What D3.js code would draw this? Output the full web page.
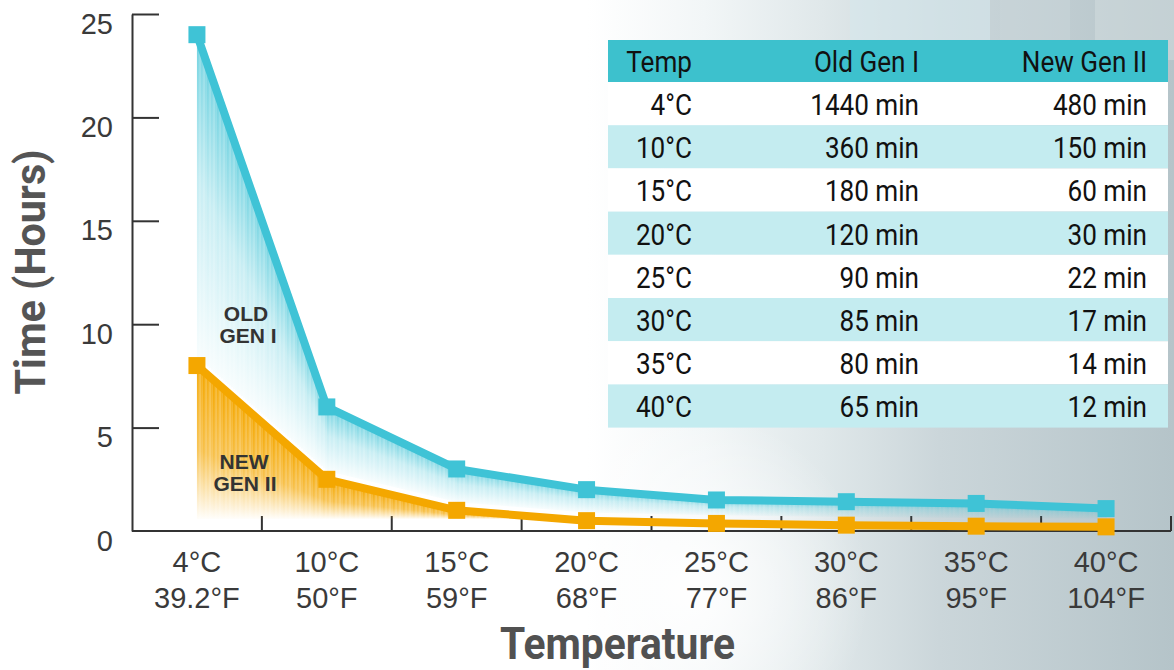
<!DOCTYPE html>
<html>
<head>
<meta charset="utf-8">
<script src="https://cdn.jsdelivr.net/npm/d3@7"></script>
<style>
  html, body { margin: 0; padding: 0; background: #fff; }
  svg { display: block; }
</style>
</head>
<body>
<div id="chart"></div>
<script>
// data
const tempsC = ["4°C", "10°C", "15°C", "20°C", "25°C", "30°C", "35°C", "40°C"];
const tempsF = ["39.2°F", "50°F", "59°F", "68°F", "77°F", "86°F", "95°F", "104°F"];
const oldGenMin = [1440, 360, 180, 120, 90, 85, 80, 65];
const newGenMin = [480, 150, 60, 30, 22, 17, 14, 12];
const yTicks = [0, 5, 10, 15, 20, 25];
const tableHeader = ["Temp", "Old Gen I", "New Gen II"];

const W = 1174, H = 670;
const cyan = "#3fc3d6", orange = "#f4a700";
const axisColor = "#333";

const oldHours = oldGenMin.map(d => d / 60);
const newHours = newGenMin.map(d => d / 60);

const svg = d3.select("#chart").append("svg")
    .attr("width", W)
    .attr("height", H);

const defs = svg.append("defs");

// background photo-ish wash on the right
const bg = defs.append("linearGradient").attr("id", "bg")
    .attr("gradientUnits", "userSpaceOnUse")
    .attr("x1", 0).attr("x2", W).attr("y1", 0).attr("y2", 0);
[[0, "#ffffff"], [0.5, "#ffffff"], [0.6, "#f2f6f7"], [0.7, "#e0e8ea"],
 [0.8, "#cbd6da"], [1, "#b5c4c9"]].forEach(s =>
    bg.append("stop").attr("offset", s[0]).attr("stop-color", s[1]));

const glow = defs.append("radialGradient").attr("id", "glow")
    .attr("gradientUnits", "userSpaceOnUse")
    .attr("cx", 690).attr("cy", 590).attr("r", 180);
glow.append("stop").attr("offset", 0).attr("stop-color", "#fff").attr("stop-opacity", 0.95);
glow.append("stop").attr("offset", 1).attr("stop-color", "#fff").attr("stop-opacity", 0);

// fades used for every fill strip (objectBoundingBox = per strip)
const gOld = defs.append("linearGradient").attr("id", "fadeOld")
    .attr("x1", 0).attr("x2", 0).attr("y1", 0).attr("y2", 1);
gOld.append("stop").attr("offset", 0).attr("stop-color", cyan).attr("stop-opacity", 0.75);
gOld.append("stop").attr("offset", 0.45).attr("stop-color", cyan).attr("stop-opacity", 0.3);
gOld.append("stop").attr("offset", 1).attr("stop-color", cyan).attr("stop-opacity", 0.04);

const gNew = defs.append("linearGradient").attr("id", "fadeNew")
    .attr("x1", 0).attr("x2", 0).attr("y1", 0).attr("y2", 1);
gNew.append("stop").attr("offset", 0).attr("stop-color", orange).attr("stop-opacity", 1);
gNew.append("stop").attr("offset", 0.55).attr("stop-color", orange).attr("stop-opacity", 0.7);
gNew.append("stop").attr("offset", 1).attr("stop-color", orange).attr("stop-opacity", 0.02);

svg.append("rect").attr("width", W).attr("height", H).attr("fill", "url(#bg)");
// faint vertical bands at the top right (background picture)
[[850, 140, "#d6e8ec", 0.6], [1000, 70, "#c9d5d9", 0.5], [1095, 79, "#d3dde0", 0.5]].forEach(b =>
    svg.append("rect").attr("x", b[0]).attr("y", 0).attr("width", b[1]).attr("height", 60)
        .attr("fill", b[2]).attr("opacity", b[3]));
svg.append("rect").attr("x", 480).attr("y", 400).attr("width", 420).attr("height", 270)
    .attr("fill", "url(#glow)");

// scales
const x = d3.scaleBand().domain(tempsC).range([132, 1171]);
const y = d3.scaleLinear().domain([0, 25]).range([531, 14]);
const cx = d => x(d) + x.bandwidth() / 2;

const tickFont = "'Liberation Sans', Arial, sans-serif";

// y axis
const yAxis = svg.append("g")
    .attr("transform", "translate(132,0)")
    .call(d3.axisLeft(y).tickValues(yTicks).tickSizeInner(-27).tickSizeOuter(0).tickPadding(19));
yAxis.select(".domain").attr("stroke", axisColor).attr("stroke-width", 2);
yAxis.selectAll(".tick line").attr("stroke", axisColor).attr("stroke-width", 2)
    .filter(d => d === 0).remove();
yAxis.selectAll(".tick text")
    .attr("fill", "#3a3a3a")
    .attr("dy", 0)
    .attr("y", 19)
    .style("font-family", tickFont)
    .style("font-size", "29px");

// x axis baseline with upward ticks at band edges
const xg = svg.append("g");
xg.append("line")
    .attr("x1", 132).attr("x2", 1171).attr("y1", y(0)).attr("y2", y(0))
    .attr("stroke", axisColor).attr("stroke-width", 2);
const edges = tempsC.map(d => x(d) + x.bandwidth());
xg.selectAll(".xt").data(edges).enter().append("line")
    .attr("x1", d => d).attr("x2", d => d)
    .attr("y1", y(0)).attr("y2", y(0) - 15)
    .attr("stroke", axisColor).attr("stroke-width", 2);

const xl = xg.selectAll(".xl").data(tempsC).enter().append("text")
    .attr("text-anchor", "middle")
    .attr("fill", "#3a3a3a")
    .style("font-family", tickFont)
    .style("font-size", "29px");
xl.append("tspan").attr("x", d => cx(d)).attr("y", 572).text(d => d);
xl.append("tspan").attr("x", d => cx(d)).attr("y", 608).text((d, i) => tempsF[i]);

// piecewise position along each series (used for the striped fade fills)
const centers = tempsC.map(cx);
const yOldAt = d3.scaleLinear().domain(centers).range(oldHours.map(y));
const yNewAt = d3.scaleLinear().domain(centers).range(newHours.map(y));
const xs = d3.range(centers[0], centers[centers.length - 1], 2);
const shade = [1, 0.82, 0.94, 0.78, 0.9];

svg.append("g").selectAll("rect").data(xs).enter().append("rect")
    .attr("x", d => d).attr("width", 2)
    .attr("y", d => yOldAt(d))
    .attr("height", d => Math.max(6, yNewAt(d) - 8 - yOldAt(d)))
    .attr("fill", "url(#fadeOld)")
    .attr("opacity", (d, i) => shade[i % shade.length]);

svg.append("g").selectAll("rect").data(xs).enter().append("rect")
    .attr("x", d => d).attr("width", 2)
    .attr("y", d => yNewAt(d))
    .attr("height", d => Math.max(4, y(0) - 12 - yNewAt(d)))
    .attr("fill", "url(#fadeNew)")
    .attr("opacity", (d, i) => shade[(i + 2) % shade.length]);

// lines
const line = d3.line().x(d => cx(d[0])).y(d => y(d[1]));
svg.append("path")
    .datum(tempsC.map((t, i) => [t, oldHours[i]]))
    .attr("d", line).attr("fill", "none")
    .attr("stroke", cyan).attr("stroke-width", 8).attr("stroke-linejoin", "round");
svg.append("path")
    .datum(tempsC.map((t, i) => [t, newHours[i]]))
    .attr("d", line).attr("fill", "none")
    .attr("stroke", orange).attr("stroke-width", 8).attr("stroke-linejoin", "round");

// markers
const ms = 17;
svg.append("g").selectAll("rect").data(oldHours).enter().append("rect")
    .attr("x", (d, i) => cx(tempsC[i]) - ms / 2)
    .attr("y", d => y(d) - ms / 2)
    .attr("width", ms).attr("height", ms)
    .attr("fill", cyan);
svg.append("g").selectAll("rect").data(newHours).enter().append("rect")
    .attr("x", (d, i) => cx(tempsC[i]) - ms / 2)
    .attr("y", d => y(d) - ms / 2)
    .attr("width", ms).attr("height", ms)
    .attr("fill", orange);

// series labels
const lab = (txt, xx, yy) => svg.append("text")
    .attr("x", xx).attr("y", yy)
    .attr("text-anchor", "middle")
    .attr("fill", "#333")
    .style("font-family", tickFont)
    .style("font-weight", "bold")
    .style("font-size", "21px")
    .text(txt);
lab("OLD", 246, 321);
lab("GEN I", 248, 343);
lab("NEW", 244, 469);
lab("GEN II", 245, 491);

// axis titles
svg.append("text")
    .attr("transform", "translate(45,272) rotate(-90)")
    .attr("text-anchor", "middle")
    .attr("fill", "#555")
    .attr("textLength", 245).attr("lengthAdjust", "spacingAndGlyphs")
    .style("font-family", "Roboto, sans-serif")
    .style("font-weight", "bold")
    .style("font-size", "42px")
    .text("Time (Hours)");

svg.append("text")
    .attr("x", 500).attr("y", 659)
    .attr("fill", "#515151")
    .attr("textLength", 235).attr("lengthAdjust", "spacingAndGlyphs")
    .style("font-family", "Roboto, sans-serif")
    .style("font-weight", "bold")
    .style("font-size", "45px")
    .text("Temperature");

// table
const tX = 608, tW = 560, headTop = 40, headH = 42, rowH = 43.2;
const colRight = [692, 919, 1147];
const table = svg.append("g");
table.append("rect")
    .attr("x", tX).attr("y", headTop).attr("width", tW).attr("height", headH)
    .attr("fill", "#3dc1cd");

const rows = tempsC.map((t, i) => [t, oldGenMin[i] + " min", newGenMin[i] + " min"]);
table.selectAll(".row").data(rows).enter().append("rect")
    .attr("x", tX)
    .attr("y", (d, i) => headTop + headH + i * rowH)
    .attr("width", tW).attr("height", rowH)
    .attr("fill", (d, i) => i % 2 ? "#c4ecf0" : "#ffffff");

const cell = (txt, xx, yy) => table.append("text")
    .attr("transform", `translate(${xx},${yy}) scale(0.87,1)`)
    .attr("text-anchor", "end")
    .attr("fill", "#111")
    .style("font-family", "Roboto, sans-serif")
    .style("font-size", "30px")
    .text(txt);

tableHeader.forEach((h, j) => cell(h, colRight[j], headTop + 32));
rows.forEach((r, i) => r.forEach((v, j) =>
    cell(v, colRight[j], headTop + headH + i * rowH + 33)));
</script>
</body>
</html>
